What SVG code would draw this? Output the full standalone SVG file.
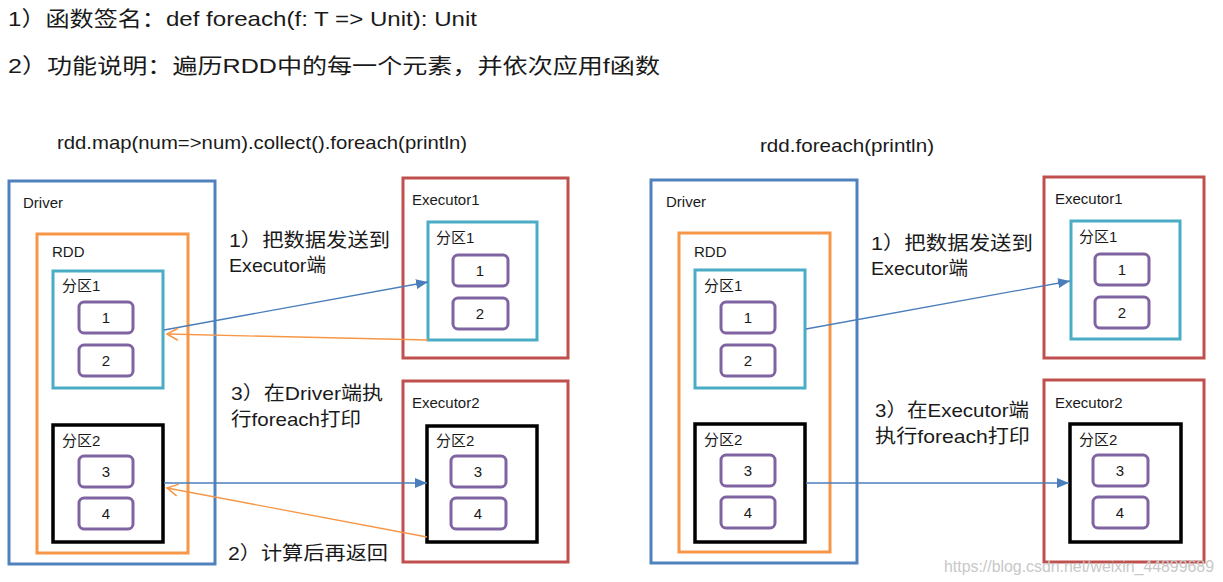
<svg xmlns="http://www.w3.org/2000/svg" width="1223" height="582" viewBox="0 0 1223 582">
<style>
text{font-family:"Liberation Sans","Noto Sans CJK SC",sans-serif;fill:#1a1a1a}
.t{font-size:21px}
.h{font-size:19px}
.m{font-size:19px}
.l{font-size:15px}
.n{font-size:15px;text-anchor:middle}
.drv{fill:none;stroke:#4F81BD;stroke-width:3}
.rdd{fill:none;stroke:#F79646;stroke-width:3}
.p1{fill:none;stroke:#4BACC6;stroke-width:3}
.p2{fill:none;stroke:#000;stroke-width:3.5}
.ex{fill:none;stroke:#C0504D;stroke-width:3}
.it{fill:#fff;stroke:#8064A2;stroke-width:3}
.bl{stroke:#4A7EBB;stroke-width:1.3;fill:none}
.or{stroke:#F79646;stroke-width:1.3;fill:none}
.wm{font-size:16px;fill:#c8c8c8}
</style>
<defs>
<marker id="ab" markerWidth="12" markerHeight="10" refX="12" refY="5" orient="auto" markerUnits="userSpaceOnUse">
<path d="M0,0 L12,5 L0,10 Z" fill="#4A7EBB"/>
</marker>
<marker id="ao" markerWidth="14" markerHeight="14" refX="12" refY="7" orient="auto" markerUnits="userSpaceOnUse">
<path d="M1,1 L12,7 L1,13" fill="none" stroke="#F79646" stroke-width="1.5"/>
</marker>
</defs>

<g id="title">
<text class="t" x="8" y="26" textLength="469" lengthAdjust="spacingAndGlyphs">1）函数签名：def foreach(f: T =&gt; Unit): Unit</text>
<text class="t" x="8" y="73" textLength="652" lengthAdjust="spacingAndGlyphs">2）功能说明：遍历RDD中的每一个元素，并依次应用f函数</text>
</g>

<!-- LEFT -->
<g id="left-header"><text class="h" x="57" y="149" textLength="410" lengthAdjust="spacingAndGlyphs">rdd.map(num=&gt;num).collect().foreach(println)</text></g>

<g id="L-driver">
<rect class="drv" x="9" y="181" width="206" height="383"/>
<text class="l" x="23" y="208">Driver</text>
</g>
<g id="L-rdd">
<rect class="rdd" x="37" y="234" width="151" height="319"/>
<text class="l" x="52" y="257">RDD</text>
</g>
<g id="L-d-p1">
<rect class="p1" x="53" y="271" width="110" height="117"/>
<text class="l" x="62" y="291">分区1</text>
<rect class="it" x="79" y="302" width="54" height="31" rx="5"/><text class="n" x="106" y="323">1</text>
<rect class="it" x="79" y="345" width="54" height="31" rx="5"/><text class="n" x="106" y="366">2</text>
</g>
<g id="L-d-p2">
<rect class="p2" x="53" y="425" width="110" height="117"/>
<text class="l" x="62" y="446">分区2</text>
<rect class="it" x="79" y="456" width="54" height="31" rx="5"/><text class="n" x="106" y="477">3</text>
<rect class="it" x="79" y="498" width="54" height="31" rx="5"/><text class="n" x="106" y="519">4</text>
</g>
<g id="L-exec1">
<rect class="ex" x="403" y="178" width="165" height="180"/>
<text class="l" x="412" y="205">Executor1</text>
<rect class="p1" x="428" y="222" width="109" height="118"/>
<text class="l" x="436" y="243">分区1</text>
<rect class="it" x="453" y="255" width="55" height="31" rx="5"/><text class="n" x="480" y="276">1</text>
<rect class="it" x="453" y="298" width="55" height="31" rx="5"/><text class="n" x="480" y="319">2</text>
</g>
<g id="L-exec2">
<rect class="ex" x="403" y="381" width="165" height="181"/>
<text class="l" x="412" y="408">Executor2</text>
<rect class="p2" x="427" y="426" width="110" height="116"/>
<text class="l" x="436" y="446">分区2</text>
<rect class="it" x="451" y="456" width="55" height="31" rx="5"/><text class="n" x="478" y="477">3</text>
<rect class="it" x="451" y="498" width="55" height="31" rx="5"/><text class="n" x="478" y="519">4</text>
</g>
<g id="L-labels">
<text class="m" x="229" y="247" textLength="161" lengthAdjust="spacingAndGlyphs">1）把数据发送到</text>
<text class="m" x="229" y="272" textLength="97" lengthAdjust="spacingAndGlyphs">Executor端</text>
<text class="m" x="231" y="400" textLength="152" lengthAdjust="spacingAndGlyphs">3）在Driver端执</text>
<text class="m" x="231" y="426" textLength="130" lengthAdjust="spacingAndGlyphs">行foreach打印</text>
<text class="m" x="228" y="560" textLength="160" lengthAdjust="spacingAndGlyphs">2）计算后再返回</text>
</g>

<!-- RIGHT -->
<g id="right-header"><text class="h" x="760" y="152" textLength="174" lengthAdjust="spacingAndGlyphs">rdd.foreach(println)</text></g>
<g id="R-driver">
<rect class="drv" x="651" y="180" width="206" height="383"/>
<text class="l" x="666" y="207">Driver</text>
</g>
<g id="R-rdd">
<rect class="rdd" x="679" y="233" width="151" height="319"/>
<text class="l" x="694" y="257">RDD</text>
</g>
<g id="R-d-p1">
<rect class="p1" x="695" y="270" width="110" height="118"/>
<text class="l" x="704" y="291">分区1</text>
<rect class="it" x="721" y="302" width="54" height="31" rx="5"/><text class="n" x="748" y="323">1</text>
<rect class="it" x="721" y="345" width="54" height="31" rx="5"/><text class="n" x="748" y="366">2</text>
</g>
<g id="R-d-p2">
<rect class="p2" x="695" y="424" width="110" height="118"/>
<text class="l" x="704" y="445">分区2</text>
<rect class="it" x="721" y="455" width="54" height="31" rx="5"/><text class="n" x="748" y="476">3</text>
<rect class="it" x="721" y="497" width="54" height="31" rx="5"/><text class="n" x="748" y="518">4</text>
</g>
<g id="R-exec1">
<rect class="ex" x="1044" y="177" width="160" height="181"/>
<text class="l" x="1055" y="204">Executor1</text>
<rect class="p1" x="1071" y="221" width="109" height="118"/>
<text class="l" x="1079" y="242">分区1</text>
<rect class="it" x="1095" y="254" width="54" height="31" rx="5"/><text class="n" x="1122" y="275">1</text>
<rect class="it" x="1095" y="297" width="54" height="31" rx="5"/><text class="n" x="1122" y="318">2</text>
</g>
<g id="R-exec2">
<rect class="ex" x="1044" y="380" width="160" height="182"/>
<text class="l" x="1055" y="408">Executor2</text>
<rect class="p2" x="1070" y="424" width="111" height="118"/>
<text class="l" x="1079" y="445">分区2</text>
<rect class="it" x="1093" y="455" width="55" height="31" rx="5"/><text class="n" x="1120" y="476">3</text>
<rect class="it" x="1093" y="497" width="55" height="31" rx="5"/><text class="n" x="1120" y="518">4</text>
</g>
<g id="R-labels">
<text class="m" x="871" y="250" textLength="162" lengthAdjust="spacingAndGlyphs">1）把数据发送到</text>
<text class="m" x="871" y="275" textLength="97" lengthAdjust="spacingAndGlyphs">Executor端</text>
<text class="m" x="875" y="417" textLength="154" lengthAdjust="spacingAndGlyphs">3）在Executor端</text>
<text class="m" x="875" y="443" textLength="155" lengthAdjust="spacingAndGlyphs">执行foreach打印</text>
</g>

<g id="connectors">
<line class="bl" x1="164" y1="330" x2="428" y2="282" marker-end="url(#ab)"/>
<line class="or" x1="428" y1="340" x2="167" y2="334" marker-end="url(#ao)"/>
<line class="bl" x1="164" y1="483" x2="427" y2="483" marker-end="url(#ab)"/>
<line class="or" x1="427" y1="537" x2="167" y2="488" marker-end="url(#ao)"/>
<line class="bl" x1="806" y1="329" x2="1070" y2="281" marker-end="url(#ab)"/>
<line class="bl" x1="806" y1="483" x2="1069" y2="483" marker-end="url(#ab)"/>
</g>

<text class="wm" x="944" y="572" textLength="270" lengthAdjust="spacingAndGlyphs">https://blog.csdn.net/weixin_44899689</text>
</svg>
